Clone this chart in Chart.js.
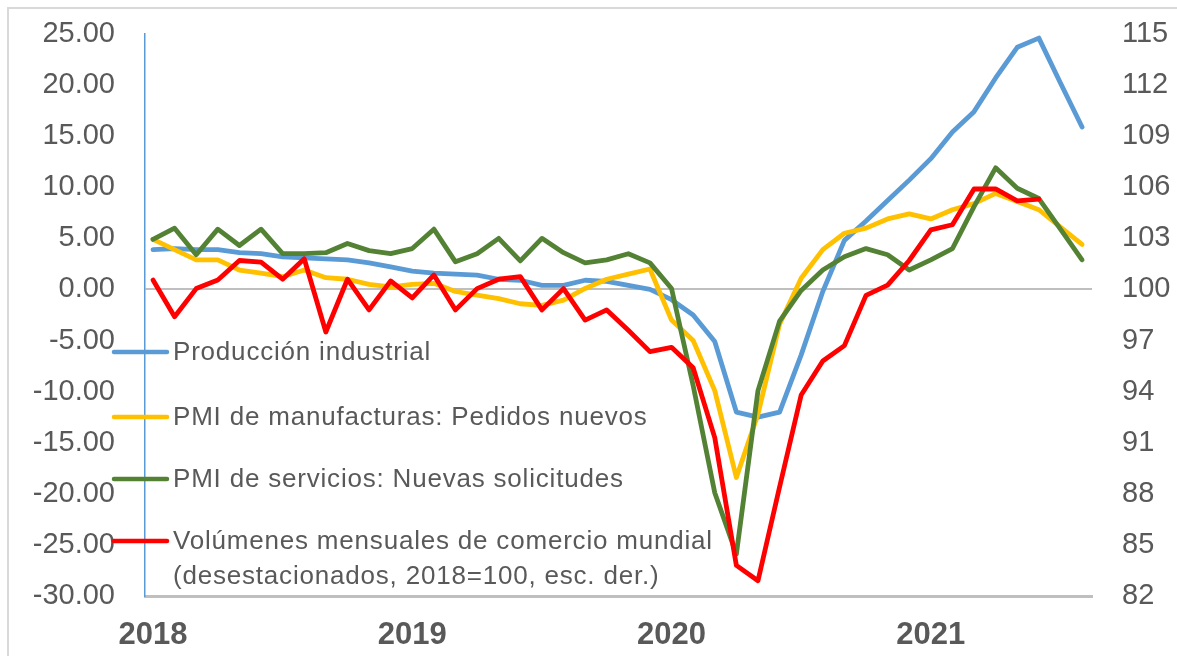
<!DOCTYPE html>
<html>
<head>
<meta charset="utf-8">
<script src="https://cdn.jsdelivr.net/npm/chart.js@4.4.0/dist/chart.umd.min.js"></script>
<style>
  html, body { margin: 0; padding: 0; background: #fff; }
  #wrap { position: relative; width: 1177px; height: 656px; }
</style>
</head>
<body>
<div id="wrap"><canvas id="myChart"></canvas></div>
<script>
// months Jan 2018 - Aug 2021
var months = [
  "2018-01","2018-02","2018-03","2018-04","2018-05","2018-06","2018-07","2018-08","2018-09","2018-10","2018-11","2018-12",
  "2019-01","2019-02","2019-03","2019-04","2019-05","2019-06","2019-07","2019-08","2019-09","2019-10","2019-11","2019-12",
  "2020-01","2020-02","2020-03","2020-04","2020-05","2020-06","2020-07","2020-08","2020-09","2020-10","2020-11","2020-12",
  "2021-01","2021-02","2021-03","2021-04","2021-05","2021-06","2021-07","2021-08"
];
var yearLabels = ["2018", "2019", "2020", "2021"];
var yearIdx = [0, 12, 24, 36];

var leftTicks = [-30, -25, -20, -15, -10, -5, 0, 5, 10, 15, 20, 25];
var rightTicks = [82, 85, 88, 91, 94, 97, 100, 103, 106, 109, 112, 115];

var produccion = [
  3.9, 4.0, 3.9, 3.9, 3.6, 3.5, 3.2, 3.1, 3.0, 2.9, 2.6, 2.2,
  1.8, 1.6, 1.5, 1.4, 1.0, 0.9, 0.4, 0.4, 0.9, 0.8, 0.4, 0.0,
  -1.0, -2.5, -5.1, -12.0, -12.5, -12.0, -6.4, -0.2, 4.8, 6.7, 8.7, 10.7,
  12.8, 15.4, 17.4, 20.7, 23.7, 24.6, 20.2, 15.9
];
var pmiManuf = [
  4.9, 3.9, 2.9, 2.9, 1.9, 1.6, 1.25, 1.9, 1.15, 1.0, 0.5, 0.25,
  0.5, 0.6, -0.2, -0.55, -0.9, -1.4, -1.55, -1.05, 0.1, 1.0, 1.5, 2.0,
  -3.0, -5.0, -9.9, -18.4, -12.2, -3.4, 1.1, 3.9, 5.5, 6.0, 6.9, 7.4,
  6.9, 7.8, 8.4, 9.4, 8.6, 7.8, 6.1, 4.4
];
var pmiServ = [
  4.9, 6.0, 3.4, 5.9, 4.3, 5.9, 3.5, 3.5, 3.6, 4.5, 3.8, 3.5,
  4.0, 5.9, 2.7, 3.5, 5.0, 2.8, 5.0, 3.6, 2.6, 2.9, 3.5, 2.6,
  0.1, -9.4, -19.9, -25.9, -9.9, -3.1, -0.1, 1.9, 3.2, 4.0, 3.4, 1.9,
  2.9, 4.0, 8.1, 11.9, 9.9, 8.9, 5.9, 2.9
];
// right scale, 2018=100
var comercio = [
  100.55, 98.4, 100.05, 100.55, 101.7, 101.6, 100.6, 101.8, 97.5, 100.6, 98.8, 100.5,
  99.5, 100.85, 98.8, 100.05, 100.6, 100.75, 98.8, 100.05, 98.2, 98.8, 97.6, 96.35,
  96.6, 95.4, 91.3, 83.8, 82.9, 88.4, 93.8, 95.8, 96.7, 99.65, 100.25, 101.7,
  103.5, 103.8, 105.9, 105.9, 105.2, 105.3, null, null
];

var seriesNames = [
  ["Producción industrial"],
  ["PMI de manufacturas: Pedidos nuevos"],
  ["PMI de servicios: Nuevas solicitudes"],
  ["Volúmenes mensuales de comercio mundial", "(desestacionados, 2018=100, esc. der.)"]
];
var seriesColors = ["#5B9BD5", "#FFC000", "#548235", "#FF0000"];

function toPoints(arr) {
  return arr.map(function (v, i) { return { x: i, y: v }; });
}

var FONT = "'Liberation Sans', Arial, sans-serif";
var TXT = "#595959";

// frame + legend inside the plot
var extras = {
  id: "extras",
  beforeDraw: function (chart) {
    var ctx = chart.ctx;
    ctx.save();
    ctx.fillStyle = "#fff";
    ctx.fillRect(0, 0, chart.width, chart.height);
    ctx.strokeStyle = "#d9d9d9";
    ctx.lineWidth = 2;
    ctx.beginPath();
    ctx.moveTo(8, chart.height);
    ctx.lineTo(8, 8);
    ctx.lineTo(chart.width, 8);
    ctx.stroke();
    ctx.restore();
  },
  afterDraw: function (chart) {
    var ctx = chart.ctx;
    var rows = [352, 417, 479, 541];
    ctx.save();
    ctx.font = "26px " + FONT;
    ctx.letterSpacing = "0.8px";
    ctx.textBaseline = "middle";
    ctx.fillStyle = TXT;
    seriesNames.forEach(function (lines, k) {
      var y = rows[k];
      ctx.strokeStyle = seriesColors[k];
      ctx.lineWidth = 4.5;
      ctx.lineCap = "round";
      ctx.beginPath();
      ctx.moveTo(114, y);
      ctx.lineTo(167, y);
      ctx.stroke();
      lines.forEach(function (t, j) {
        ctx.fillText(t, 173, y + 1 + j * 35);
      });
    });
    ctx.restore();
  }
};

function mkSet(label, arr, color, axis, order) {
  return {
    label: label,
    data: toPoints(arr),
    borderColor: color,
    backgroundColor: color,
    borderWidth: 4.8,
    pointRadius: 0,
    tension: 0,
    borderJoinStyle: "round",
    borderCapStyle: "round",
    spanGaps: false,
    yAxisID: axis,
    order: order
  };
}

// keep the big tick padding from pushing the plot area down
function fixVert(width) {
  return function (scale) {
    scale.width = width;
    scale.paddingTop = 17;
    scale.paddingBottom = 17;
  };
}

var ctx = document.getElementById("myChart").getContext("2d");

var myChart = new Chart(ctx, {
  type: "line",
  data: {
    labels: months,
    datasets: [
      mkSet(seriesNames[0].join(" "), produccion, seriesColors[0], "y", 3),
      mkSet(seriesNames[1].join(" "), pmiManuf, seriesColors[1], "y", 2),
      mkSet(seriesNames[2].join(" "), pmiServ, seriesColors[2], "y", 1),
      mkSet(seriesNames[3].join(" "), comercio, seriesColors[3], "y1", 0)
    ]
  },
  options: {
    responsive: true,
    maintainAspectRatio: false,
    animation: false,
    layout: { padding: { top: 34, left: 0, right: 0, bottom: 0 } },
    plugins: {
      legend: { display: false },
      tooltip: { enabled: false }
    },
    scales: {
      x: {
        type: "linear",
        min: -0.37,
        max: 43.46,
        grid: { display: false },
        border: { display: true, color: "#bfbfbf", width: 3 },
        afterBuildTicks: function (scale) {
          scale.ticks = yearIdx.map(function (v) { return { value: v }; });
        },
        afterFit: function (scale) { scale.height = 60; },
        ticks: {
          autoSkip: false,
          maxRotation: 0,
          padding: 13,
          color: TXT,
          font: { family: FONT, size: 31, weight: "bold" },
          callback: function (v) { return yearLabels[yearIdx.indexOf(v)]; }
        }
      },
      y: {
        position: "left",
        min: leftTicks[0],
        max: leftTicks[leftTicks.length - 1],
        afterBuildTicks: function (scale) {
          scale.ticks = leftTicks.map(function (v) { return { value: v }; });
        },
        afterFit: fixVert(145),
        grid: {
          drawTicks: false,
          lineWidth: 2,
          color: function (c) { return c.tick && c.tick.value === 0 ? "#bfbfbf" : "rgba(0,0,0,0)"; }
        },
        border: { display: true, color: "#5B9BD5", width: 1.5 },
        ticks: {
          padding: 30,
          color: TXT,
          font: { family: FONT, size: 29 },
          callback: function (v) { return Number(v).toFixed(2); }
        }
      },
      y1: {
        position: "right",
        min: rightTicks[0],
        max: rightTicks[rightTicks.length - 1],
        afterBuildTicks: function (scale) {
          scale.ticks = rightTicks.map(function (v) { return { value: v }; });
        },
        afterFit: fixVert(85),
        grid: { display: false, drawTicks: false },
        border: { display: false },
        ticks: {
          padding: 30,
          color: TXT,
          font: { family: FONT, size: 29 }
        }
      }
    }
  },
  plugins: [extras]
});
</script>
</body>
</html>
